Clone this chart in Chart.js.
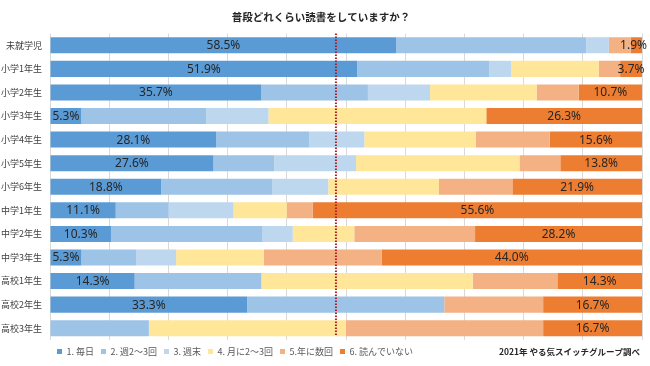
<!DOCTYPE html>
<html lang="ja">
<head>
<meta charset="utf-8">
<title>普段どれくらい読書をしていますか？</title>
<script src="https://cdn.jsdelivr.net/npm/chart.js@4/dist/chart.umd.min.js"></script>
<style>
  html, body { margin: 0; padding: 0; background: #ffffff; }
  #wrap { width: 650px; height: 366px; position: relative; }
</style>
</head>
<body>
<div id="wrap"><canvas id="plot"></canvas></div>
<script>
// Categorias (filas del grafico)
let grados = ['未就学児', '小学1年生', '小学2年生', '小学3年生', '小学4年生', '小学5年生', '小学6年生',
  '中学1年生', '中学2年生', '中学3年生', '高校1年生', '高校2年生', '高校3年生'];

// Series (porcentajes)
let mainichi = [58.5, 51.9, 35.7, 5.3, 28.1, 27.6, 18.8, 11.1, 10.3, 5.3, 14.3, 33.3, 0];
let shuNiSan = [32.1, 22.3, 18.0, 21.1, 15.7, 10.3, 18.7, 8.9, 25.6, 9.3, 21.4, 33.3, 16.7];
let shumatsu = [3.8, 3.7, 10.5, 10.5, 9.3, 13.8, 9.5, 11.0, 5.1, 6.7, 0, 0, 0];
let tsukiNiSan = [0, 14.8, 18.0, 36.8, 18.8, 27.6, 18.7, 9.0, 10.4, 14.8, 35.7, 0, 33.3];
let nenSuukai = [3.7, 3.6, 7.1, 0, 12.5, 6.9, 12.4, 4.4, 20.4, 19.9, 14.3, 16.7, 33.3];
let yondeinai = [1.9, 3.7, 10.7, 26.3, 15.6, 13.8, 21.9, 55.6, 28.2, 44.0, 14.3, 16.7, 16.7];

let nombresSeries = ['1. 毎日', '2. 週2～3回', '3. 週末', '4. 月に2～3回', '5.年に数回', '6. 読んでいない'];
let coloresSeries = ['#5B9BD5', '#9DC3E6', '#BDD7EE', '#FFE699', '#F4B183', '#ED7D31'];

// Linea punteada vertical (valor en %)
let lineaPromedio = 48.3;

let tituloTexto = '普段どれくらい読書をしていますか？';
let fuenteTexto = '2021年 やる気スイッチグループ調べ';

let fuenteJP = '"Noto Sans CJK JP", "Noto Sans", sans-serif';

// Etiquetas de valor solo para la primera y la ultima serie
let etiquetasPlugin = {
  id: 'etiquetas',
  afterDatasetsDraw(chart) {
    let ctx = chart.ctx;
    ctx.save();
    ctx.font = '12px "Noto Sans", "Noto Sans CJK JP", sans-serif';
    ctx.fillStyle = '#262626';
    ctx.textAlign = 'center';
    ctx.textBaseline = 'middle';
    [0, 5].forEach(idx => {
      let meta = chart.getDatasetMeta(idx);
      let valores = chart.data.datasets[idx].data;
      meta.data.forEach((bar, i) => {
        let v = valores[i];
        if (!v) return;
        let {x, y, base} = bar.getProps(['x', 'y', 'base'], true);
        let texto = v.toFixed(1) + '%';
        let w = ctx.measureText(texto).width;
        let cx = (x + base) / 2;
        let limite = chart.chartArea.right + 5;
        if (cx + w / 2 > limite) cx = limite - w / 2;
        ctx.fillText(texto, cx, y + 0.5);
      });
    });
    ctx.restore();
  }
};

// Linea punteada roja
let lineaPlugin = {
  id: 'lineaPromedio',
  afterDatasetsDraw(chart) {
    let ctx = chart.ctx;
    let xs = chart.scales.x;
    let px = xs.getPixelForValue(lineaPromedio);
    ctx.save();
    ctx.strokeStyle = '#B01E24';
    ctx.lineWidth = 2;
    ctx.setLineDash([1.6, 1.4]);
    ctx.beginPath();
    ctx.moveTo(px, chart.chartArea.top);
    ctx.lineTo(px, chart.chartArea.bottom - 4);
    ctx.stroke();
    ctx.restore();
  }
};

// Texto de la fuente abajo a la derecha
let fuentePlugin = {
  id: 'fuente',
  afterDraw(chart) {
    let ctx = chart.ctx;
    ctx.save();
    ctx.font = 'bold 8.5px ' + fuenteJP;
    ctx.fillStyle = '#262626';
    ctx.textAlign = 'right';
    ctx.textBaseline = 'middle';
    ctx.fillText(fuenteTexto, 640, 351.5);
    ctx.restore();
  }
};

let series = [mainichi, shuNiSan, shumatsu, tsukiNiSan, nenSuukai, yondeinai];

let config = {
  type: 'bar',
  data: {
    labels: grados,
    datasets: series.map((datos, i) => ({
      label: nombresSeries[i],
      data: datos,
      backgroundColor: coloresSeries[i],
      borderWidth: 0,
      categoryPercentage: 1,
      barPercentage: 0.68
    }))
  },
  options: {
    indexAxis: 'y',
    responsive: true,
    maintainAspectRatio: false,
    animation: false,
    layout: { padding: { left: 0, right: 8, top: 0, bottom: 0 } },
    font: { family: fuenteJP },
    scales: {
      x: {
        stacked: true,
        min: 0,
        max: 100,
        ticks: { display: false, stepSize: 10 },
        grid: { color: '#D9D9D9', lineWidth: 1, drawTicks: false },
        border: { display: false },
        afterFit: s => { s.height = 0; }
      },
      y: {
        stacked: true,
        ticks: {
          color: '#404040',
          padding: 8,
          font: { size: 9, family: fuenteJP }
        },
        grid: { display: false, drawTicks: false },
        border: { display: false },
        afterFit: s => { s.width = 50; }
      }
    },
    plugins: {
      title: {
        display: true,
        text: tituloTexto,
        color: '#262626',
        font: { size: 10.5, weight: 'bold', family: fuenteJP },
        padding: { top: 10.5, bottom: 10.4 }
      },
      legend: {
        display: true,
        position: 'bottom',
        align: 'start',
        fullSize: false,
        labels: {
          boxWidth: 5,
          boxHeight: 5,
          padding: 7,
          color: '#595959',
          font: { size: 9, family: fuenteJP }
        }
      },
      tooltip: { enabled: false }
    }
  },
  plugins: [etiquetasPlugin, lineaPlugin, fuentePlugin]
};

let grafico = new Chart(document.getElementById('plot'), config);
</script>
</body>
</html>
